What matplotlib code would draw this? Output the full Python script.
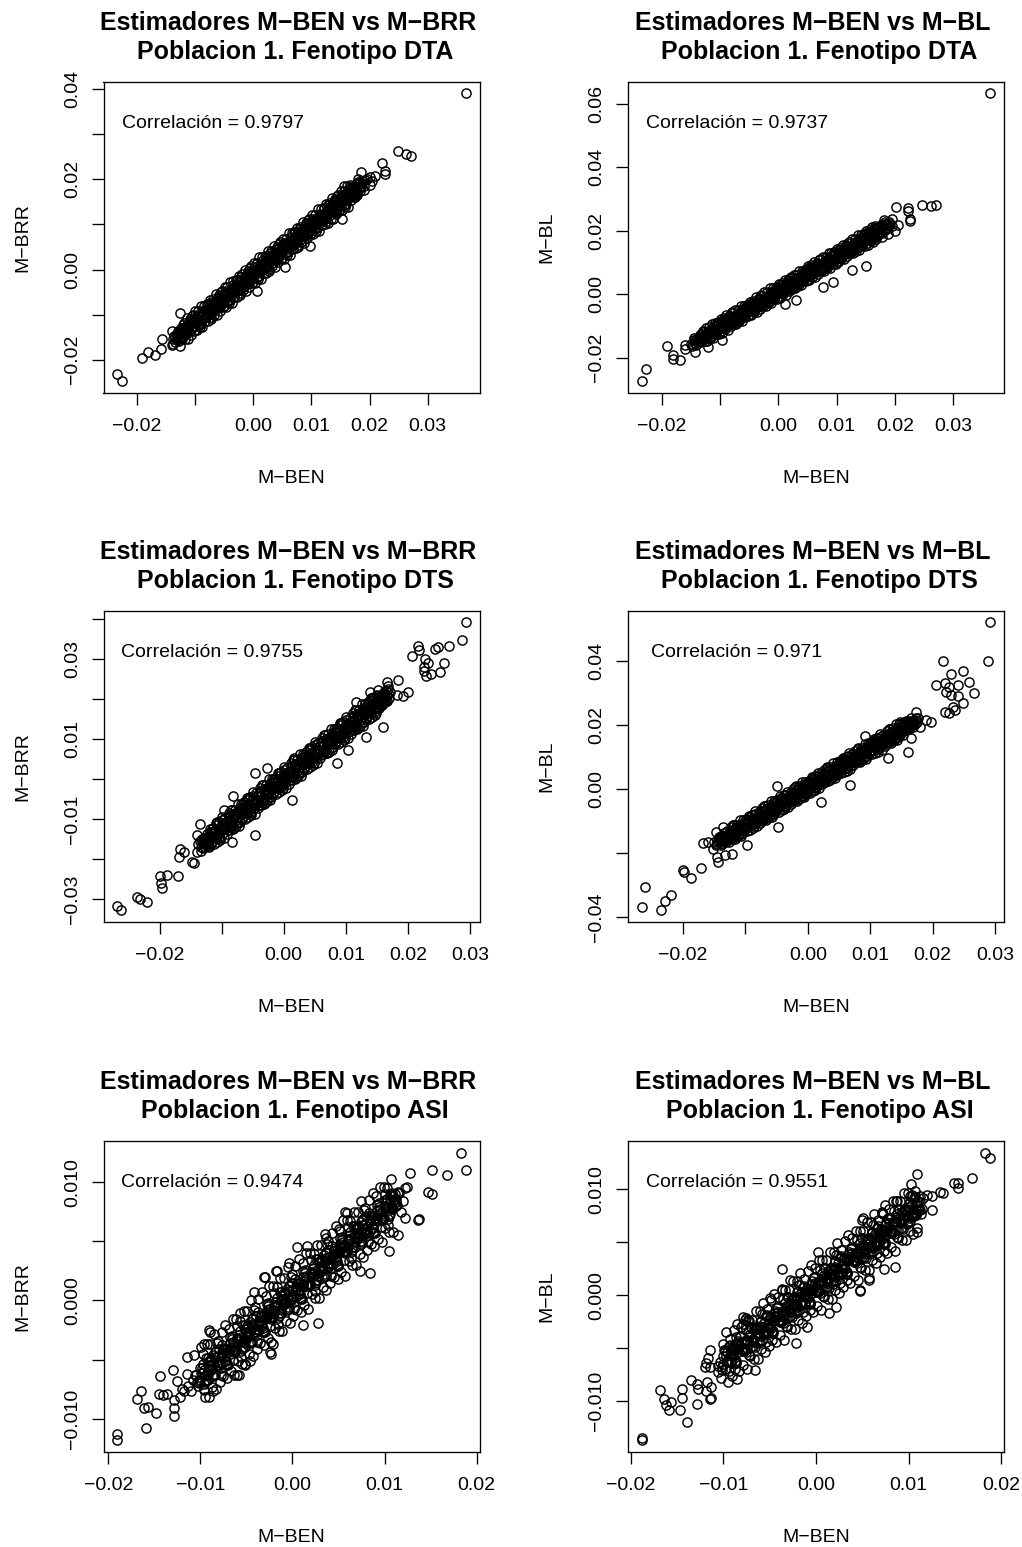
import numpy as np
import matplotlib
matplotlib.use("Agg")
import matplotlib.pyplot as plt

plt.rcParams['font.family'] = ['Liberation Sans', 'DejaVu Sans']

# marker effects, stored in units of 1e-4: (M-BEN, other estimator)
dta_brr = [
    (-140, -167), (-138, -153), (-135, -148), (-133, -154), (-130, -152), (-128, -138), (-125, -141), (-123, -150),
    (-120, -124), (-118, -146), (-115, -134), (-113, -124), (-110, -139), (-108, -114), (-105, -103), (-103, -126),
    (-100, -133), (-98, -112), (-95, -104), (-93, -122), (-90, -121), (-88, -96), (-85, -89), (-83, -103),
    (-80, -103), (-78, -76), (-75, -87), (-73, -106), (-70, -71), (-68, -93), (-65, -81), (-63, -71),
    (-60, -86), (-58, -61), (-55, -50), (-53, -73), (-50, -80), (-48, -59), (-45, -51), (-43, -69),
    (-40, -68), (-38, -43), (-35, -35), (-33, -49), (-30, -50), (-28, -23), (-25, -34), (-23, -53),
    (-20, -17), (-18, -39), (-15, -28), (-13, -18), (-10, -33), (-8, -8), (-5, 4), (-3, -19),
    (0, -27), (2, -6), (5, 2), (7, -16), (10, -14), (12, 11), (15, 18), (17, 4),
    (20, 3), (22, 30), (25, 20), (27, 1), (30, 36), (32, 14), (35, 25), (37, 35),
    (40, 21), (42, 46), (45, 57), (47, 34), (50, 26), (52, 47), (55, 56), (57, 38),
    (60, 39), (62, 64), (65, 71), (67, 57), (70, 57), (72, 84), (75, 73), (77, 54),
    (80, 89), (82, 67), (85, 79), (87, 89), (90, 74), (92, 99), (95, 110), (97, 87),
    (100, 80), (102, 101), (105, 109), (107, 91), (110, 92), (112, 117), (115, 124), (117, 110),
    (120, 110), (122, 137), (125, 126), (127, 107), (130, 142), (132, 120), (135, 132), (137, 142),
    (140, 127), (142, 152), (145, 163), (147, 140), (150, 133), (152, 154), (155, 162), (157, 144),
    (160, 145), (162, 170), (165, 178), (167, 164), (170, 167), (172, 181), (175, 178), (177, 169),
    (180, 189), (182, 179), (185, 186), (187, 192), (190, 186), (192, 199),
    (-118, -138), (-108, -120), (-98, -117), (-88, -99), (-78, -96), (-68, -78), (-58, -74), (-48, -57),
    (-38, -53), (-28, -36), (-18, -32), (-8, -14), (2, -11), (12, 7), (22, 10), (32, 28), (42, 32),
    (52, 49), (62, 53), (72, 70), (82, 74), (92, 92), (102, 95), (112, 113), (122, 116), (132, 134),
    (142, 138), (152, 155), (162, 159),
    (-132, -146), (-134, -160), (-127, -153), (-129, -144), (-122, -130), (-124, -152), (-117, -138), (-119, -129),
    (-112, -122), (-114, -133), (-107, -135), (-109, -115), (-102, -117), (-104, -126), (-97, -101), (-99, -109),
    (-92, -114), (-94, -122), (-87, -103), (-89, -104), (-82, -93), (-84, -107), (-77, -100), (-79, -91),
    (-72, -77), (-74, -99), (-67, -85), (-69, -76), (-62, -69), (-64, -80), (-57, -82), (-59, -62),
    (-52, -64), (-54, -73), (-47, -48), (-49, -56), (-42, -61), (-44, -69), (-37, -50), (-39, -51),
    (-32, -39), (-34, -53), (-27, -47), (-29, -38), (-22, -24), (-24, -46), (-17, -31), (-19, -22),
    (-12, -16), (-14, -27), (-7, -29), (-9, -9), (-2, -10), (-4, -19), (3, 5), (1, -3),
    (8, -8), (6, -16), (13, 4), (11, 3), (18, 14), (16, 0), (23, 6), (21, 15),
    (28, 30), (26, 8), (33, 22), (31, 31), (38, 37), (36, 26), (43, 25), (41, 45),
    (48, 43), (46, 34), (53, 58), (51, 50), (58, 46), (56, 38), (63, 57), (61, 56),
    (68, 67), (66, 53), (73, 60), (71, 69), (78, 83), (76, 61), (83, 75), (81, 84),
    (88, 91), (86, 80), (93, 78), (91, 98), (98, 96), (96, 87), (103, 112), (101, 104),
    (108, 99), (106, 91), (113, 110), (111, 109), (118, 120), (116, 106), (123, 113), (121, 122),
    (128, 136), (126, 114), (133, 128), (131, 137), (138, 144), (136, 133), (143, 131), (141, 151),
    (148, 149), (146, 140), (153, 165), (151, 157), (158, 152), (156, 144), (163, 163), (161, 162),
    (168, 174), (166, 160), (173, 166), (171, 175), (178, 189), (176, 167), (183, 182), (181, 191),
    (188, 197), (186, 186),
    (-131, -146), (-126, -150), (-121, -137), (-116, -126), (-111, -131), (-106, -131), (-101, -112), (-96, -112),
    (-91, -111), (-86, -99), (-81, -93), (-76, -97), (-71, -84), (-66, -73), (-61, -78), (-56, -78),
    (-51, -59), (-46, -59), (-41, -58), (-36, -46), (-31, -39), (-26, -44), (-21, -31), (-16, -19),
    (-11, -25), (-6, -25), (-1, -5), (4, -6), (9, -5), (14, 8), (19, 14), (24, 9),
    (29, 23), (34, 34), (39, 28), (44, 29), (49, 48), (54, 47), (59, 49), (64, 61),
    (69, 67), (74, 63), (79, 76), (84, 87), (89, 82), (94, 82), (99, 101), (104, 101),
    (109, 102), (114, 114), (119, 120), (124, 116), (129, 129), (134, 140), (139, 135), (144, 135),
    (149, 154), (154, 154), (159, 155), (164, 167), (169, 174), (174, 169), (179, 182), (184, 194),
    (-129, -137), (-127, -158), (-124, -129), (-122, -154), (-119, -118), (-117, -153), (-114, -107), (-112, -154),
    (-109, -110), (-107, -144), (-104, -100), (-102, -136), (-99, -92), (-97, -135), (-94, -92), (-92, -127),
    (-89, -80), (-87, -127), (-84, -80), (-82, -114), (-79, -77), (-77, -113), (-74, -67), (-72, -110),
    (-69, -65), (-67, -100), (-64, -54), (-62, -101), (-59, -57), (-57, -91), (-54, -47), (-52, -83),
    (-49, -39), (-47, -82), (-44, -39), (-42, -74), (-39, -27), (-37, -74), (-34, -26), (-32, -60),
    (-29, -24), (-27, -60), (-24, -14), (-22, -57), (-19, -11), (-17, -46), (-14, -1), (-12, -48),
    (-9, -4), (-7, -38), (-4, 7), (-2, -29), (1, 14), (3, -29), (6, 14), (8, -21),
    (11, 27), (13, -20), (16, 27), (18, -7), (21, 29), (23, -7), (26, 40), (28, -3),
    (31, 42), (33, 7), (36, 52), (38, 5), (41, 50), (43, 16), (46, 60), (48, 24),
    (51, 67), (53, 24), (56, 68), (58, 33), (61, 80), (63, 33), (66, 80), (68, 46),
    (71, 83), (73, 47), (76, 93), (78, 50), (81, 95), (83, 60), (86, 106), (88, 59),
    (91, 103), (93, 69), (96, 113), (98, 77), (101, 121), (103, 78), (106, 121), (108, 86),
    (111, 133), (113, 86), (116, 133), (118, 99), (121, 136), (123, 100), (126, 146), (128, 103),
    (131, 148), (133, 113), (136, 159), (138, 112), (141, 156), (143, 122), (146, 166), (148, 130),
    (151, 174), (153, 131), (156, 174), (158, 139), (161, 186), (163, 139), (166, 187), (168, 153),
    (171, 182), (173, 161), (176, 190), (178, 165), (181, 194), (183, 174),
    (365, 390), (249, 262), (262, 257), (272, 251), (222, 236), (226, 219), (226, 211), (186, 215),
    (201, 205), (157, 185), (153, 111), (98, 53), (54, 5), (6, -47), (-126, -97), (-140, -136),
    (-137, -165), (-126, -169), (-190, -195), (-180, -182), (-169, -189), (-158, -176), (-157, -154),
    (-233, -232), (-225, -247), (195, 200), (205, 196), (190, 176), (210, 208), (180, 200), (175, 160),
    (168, 183), (200, 188),
]

dta_bl = [
    (-150, -156), (-148, -165), (-145, -145), (-143, -155), (-140, -147), (-138, -141), (-135, -147), (-133, -134),
    (-130, -116), (-128, -139), (-125, -147), (-123, -126), (-120, -117), (-118, -135), (-115, -134), (-113, -109),
    (-110, -101), (-108, -115), (-105, -116), (-103, -89), (-100, -99), (-98, -118), (-95, -82), (-93, -104),
    (-90, -93), (-88, -83), (-85, -97), (-83, -72), (-80, -61), (-78, -84), (-75, -91), (-73, -70),
    (-70, -62), (-68, -80), (-65, -78), (-63, -53), (-60, -46), (-58, -60), (-55, -60), (-53, -33),
    (-50, -44), (-48, -63), (-45, -27), (-43, -49), (-40, -37), (-38, -27), (-35, -42), (-33, -17),
    (-30, -5), (-28, -28), (-25, -36), (-23, -15), (-20, -6), (-18, -24), (-15, -23), (-13, 2),
    (-10, 10), (-8, -4), (-5, -5), (-3, 22), (0, 12), (2, -7), (5, 29), (7, 7),
    (10, 18), (12, 28), (15, 14), (17, 39), (20, 50), (22, 27), (25, 20), (27, 41),
    (30, 49), (32, 31), (35, 33), (37, 58), (40, 65), (42, 51), (45, 51), (47, 78),
    (50, 68), (52, 49), (55, 84), (57, 62), (60, 74), (62, 84), (65, 69), (67, 94),
    (70, 106), (72, 83), (75, 75), (77, 96), (80, 105), (82, 87), (85, 88), (87, 113),
    (90, 121), (92, 107), (95, 106), (97, 133), (100, 123), (102, 104), (105, 140), (107, 118),
    (110, 129), (112, 139), (115, 125), (117, 150), (120, 161), (122, 138), (125, 131), (127, 152),
    (130, 160), (132, 142), (135, 144), (137, 169), (140, 176), (142, 162), (145, 162), (147, 189),
    (150, 179), (152, 160), (155, 195), (157, 173), (160, 185), (162, 195), (165, 180), (167, 205),
    (170, 208), (172, 197), (175, 195), (177, 206), (180, 213), (182, 205), (185, 206), (187, 220),
    (190, 226), (192, 220),
    (-128, -136), (-118, -119), (-108, -114), (-98, -97), (-88, -92), (-78, -75), (-68, -69), (-58, -52),
    (-48, -47), (-38, -30), (-28, -25), (-18, -8), (-8, -3), (2, 14), (12, 19), (22, 36), (32, 42),
    (42, 59), (52, 64), (62, 81), (72, 86), (82, 103), (92, 108), (102, 125), (112, 130), (122, 147),
    (132, 153), (142, 170), (152, 175), (162, 192), (172, 197),
    (-142, -160), (-144, -140), (-137, -141), (-139, -150), (-132, -126), (-134, -134), (-127, -138), (-129, -146),
    (-122, -127), (-124, -128), (-117, -116), (-119, -130), (-112, -124), (-114, -115), (-107, -100), (-109, -122),
    (-102, -108), (-104, -99), (-97, -92), (-99, -103), (-92, -104), (-94, -84), (-87, -86), (-89, -95),
    (-82, -70), (-84, -78), (-77, -83), (-79, -91), (-72, -71), (-74, -72), (-67, -61), (-69, -75),
    (-62, -68), (-64, -59), (-57, -45), (-59, -67), (-52, -52), (-54, -43), (-47, -37), (-49, -48),
    (-42, -49), (-44, -29), (-37, -30), (-39, -39), (-32, -15), (-34, -23), (-27, -27), (-29, -35),
    (-22, -16), (-24, -17), (-17, -5), (-19, -19), (-12, -13), (-14, -4), (-7, 11), (-9, -11),
    (-2, 3), (-4, 12), (3, 19), (1, 8), (8, 7), (6, 27), (13, 25), (11, 16),
    (18, 41), (16, 33), (23, 28), (21, 20), (28, 40), (26, 39), (33, 50), (31, 36),
    (38, 43), (36, 52), (43, 66), (41, 44), (48, 59), (46, 68), (53, 75), (51, 64),
    (58, 62), (56, 82), (63, 81), (61, 72), (68, 96), (66, 88), (73, 84), (71, 76),
    (78, 95), (76, 94), (83, 106), (81, 92), (88, 98), (86, 107), (93, 122), (91, 100),
    (98, 114), (96, 123), (103, 130), (101, 119), (108, 118), (106, 138), (113, 136), (111, 127),
    (118, 152), (116, 144), (123, 139), (121, 131), (128, 151), (126, 150), (133, 161), (131, 147),
    (138, 154), (136, 163), (143, 177), (141, 155), (148, 170), (146, 179), (153, 186), (151, 175),
    (158, 173), (156, 193), (163, 192), (161, 183), (168, 207), (166, 199), (173, 195), (171, 187),
    (178, 206), (176, 205), (183, 217), (181, 203), (188, 209), (186, 218),
    (-141, -142), (-136, -142), (-131, -141), (-126, -128), (-121, -122), (-116, -126), (-111, -113), (-106, -101),
    (-101, -107), (-96, -106), (-91, -86), (-86, -87), (-81, -85), (-76, -73), (-71, -66), (-66, -71),
    (-61, -57), (-56, -46), (-51, -51), (-46, -51), (-41, -31), (-36, -31), (-31, -30), (-26, -17),
    (-21, -11), (-16, -15), (-11, -2), (-6, 10), (-1, 4), (4, 5), (9, 25), (14, 24),
    (19, 26), (24, 38), (29, 45), (34, 40), (39, 54), (44, 65), (49, 60), (54, 61),
    (59, 80), (64, 80), (69, 81), (74, 94), (79, 100), (84, 96), (89, 109), (94, 121),
    (99, 115), (104, 116), (109, 136), (114, 135), (119, 137), (124, 149), (129, 156), (134, 151),
    (139, 165), (144, 176), (149, 171), (154, 172), (159, 191), (164, 191), (169, 192), (174, 205),
    (179, 211),
    (-134, -130), (-132, -150), (-129, -121), (-127, -142), (-124, -106), (-122, -149), (-119, -105), (-117, -140),
    (-114, -93), (-112, -140), (-109, -92), (-107, -126), (-104, -90), (-102, -126), (-99, -79), (-97, -122),
    (-94, -76), (-92, -111), (-89, -66), (-87, -113), (-84, -68), (-82, -102), (-79, -58), (-77, -94),
    (-74, -50), (-72, -93), (-69, -50), (-67, -85), (-64, -37), (-62, -84), (-59, -37), (-57, -71),
    (-54, -34), (-52, -70), (-49, -24), (-47, -67), (-44, -21), (-42, -56), (-39, -10), (-37, -57),
    (-34, -13), (-32, -47), (-29, -2), (-27, -38), (-24, 5), (-22, -38), (-19, 6), (-17, -29),
    (-14, 18), (-12, -29), (-9, 19), (-7, -15), (-4, 21), (-2, -15), (1, 32), (3, -11),
    (6, 35), (8, 0), (11, 45), (13, -2), (16, 43), (18, 9), (21, 53), (23, 17),
    (26, 61), (28, 18), (31, 61), (33, 26), (36, 74), (38, 27), (41, 74), (43, 40),
    (46, 77), (48, 41), (51, 88), (53, 45), (56, 90), (58, 55), (61, 101), (63, 54),
    (66, 98), (68, 64), (71, 109), (73, 73), (76, 116), (78, 73), (81, 117), (83, 82),
    (86, 129), (88, 82), (91, 130), (93, 96), (96, 132), (98, 96), (101, 143), (103, 100),
    (106, 146), (108, 111), (111, 156), (113, 109), (116, 154), (118, 120), (121, 164), (123, 128),
    (126, 172), (128, 129), (131, 172), (133, 137), (136, 185), (138, 138), (141, 185), (143, 151),
    (146, 188), (148, 152), (151, 199), (153, 156), (156, 201), (158, 166), (161, 212), (163, 165),
    (166, 209), (168, 175), (171, 212), (173, 191), (176, 218), (178, 193), (181, 221), (183, 201),
    (363, 632), (202, 274), (223, 271), (223, 261), (225, 237), (225, 229), (247, 282), (261, 276),
    (271, 282), (181, 232), (194, 237), (200, 200), (149, 189), (151, 87), (126, 76), (94, 37), (77, 21),
    (31, -19), (11, -32), (-97, -145), (-120, -168), (-143, -184), (-191, -163), (-180, -205),
    (-180, -192), (-169, -208), (-160, -174), (-160, -160), (-227, -237), (-234, -274),
    (178, 180), (188, 190), (195, 215), (182, 228), (165, 215), (205, 218),
]

dts_brr = [
    (-140, -181), (-138, -163), (-135, -154), (-133, -169), (-130, -172), (-128, -156), (-125, -149), (-123, -161),
    (-120, -169), (-118, -134), (-115, -125), (-113, -145), (-110, -146), (-108, -108), (-105, -125), (-103, -151),
    (-100, -103), (-98, -134), (-95, -120), (-93, -106), (-90, -127), (-88, -92), (-85, -77), (-83, -109),
    (-80, -122), (-78, -92), (-75, -82), (-73, -107), (-70, -107), (-68, -72), (-65, -62), (-63, -82),
    (-60, -84), (-58, -46), (-55, -63), (-53, -89), (-50, -41), (-48, -72), (-45, -57), (-43, -43),
    (-40, -65), (-38, -30), (-35, -15), (-33, -47), (-30, -60), (-28, -30), (-25, -19), (-23, -44),
    (-20, -44), (-18, -10), (-15, 0), (-13, -20), (-10, -22), (-8, 16), (-5, 0), (-3, -27),
    (0, 22), (2, -10), (5, 5), (7, 19), (10, -2), (12, 33), (15, 48), (17, 16),
    (20, 3), (22, 33), (25, 43), (27, 18), (30, 19), (32, 54), (35, 63), (37, 43),
    (40, 41), (42, 79), (45, 62), (47, 36), (50, 85), (52, 54), (55, 68), (57, 82),
    (60, 60), (62, 95), (65, 110), (67, 78), (70, 66), (72, 96), (75, 106), (77, 81),
    (80, 81), (82, 116), (85, 125), (87, 105), (90, 104), (92, 141), (95, 125), (97, 99),
    (100, 147), (102, 116), (105, 130), (107, 144), (110, 123), (112, 158), (115, 173), (117, 141),
    (120, 128), (122, 158), (125, 168), (127, 143), (130, 144), (132, 179), (135, 188), (137, 168),
    (140, 166), (142, 204), (145, 187), (147, 161), (150, 210), (152, 179), (155, 195), (157, 203),
    (160, 194), (162, 213), (165, 221), (167, 207), (170, 203), (172, 219),
    (-128, -162), (-118, -142), (-108, -137), (-98, -117), (-88, -112), (-78, -92), (-68, -87), (-58, -67),
    (-48, -62), (-38, -42), (-28, -37), (-18, -17), (-8, -12), (2, 9), (12, 13), (22, 34), (32, 38),
    (42, 59), (52, 63), (62, 84), (72, 88), (82, 109), (92, 113), (102, 134), (112, 138), (122, 159),
    (132, 163), (142, 184), (152, 188), (162, 209),
    (-132, -149), (-134, -180), (-127, -160), (-129, -148), (-122, -141), (-124, -156), (-117, -159), (-119, -132),
    (-112, -135), (-114, -148), (-107, -115), (-109, -126), (-102, -133), (-104, -144), (-97, -119), (-99, -121),
    (-92, -106), (-94, -125), (-87, -117), (-89, -105), (-82, -86), (-84, -117), (-77, -98), (-79, -86),
    (-72, -79), (-74, -94), (-67, -97), (-69, -70), (-62, -72), (-64, -85), (-57, -53), (-59, -64),
    (-52, -71), (-54, -82), (-47, -57), (-49, -59), (-42, -43), (-44, -62), (-37, -55), (-39, -43),
    (-32, -24), (-34, -55), (-27, -36), (-29, -24), (-22, -16), (-24, -31), (-17, -34), (-19, -7),
    (-12, -10), (-14, -23), (-7, 9), (-9, -2), (-2, -8), (-4, -19), (3, 6), (1, 4),
    (8, 19), (6, 0), (13, 8), (11, 20), (18, 39), (16, 8), (23, 27), (21, 39),
    (28, 46), (26, 31), (33, 29), (31, 56), (38, 53), (36, 40), (43, 72), (41, 61),
    (48, 54), (46, 43), (53, 69), (51, 67), (58, 82), (56, 63), (63, 70), (61, 82),
    (68, 101), (66, 70), (73, 90), (71, 102), (78, 109), (76, 94), (83, 91), (81, 118),
    (88, 115), (86, 102), (93, 135), (91, 124), (98, 117), (96, 106), (103, 131), (101, 129),
    (108, 144), (106, 125), (113, 133), (111, 145), (118, 164), (116, 133), (123, 152), (121, 164),
    (128, 171), (126, 156), (133, 154), (131, 181), (138, 178), (136, 165), (143, 197), (141, 186),
    (148, 179), (146, 168), (153, 194), (151, 192), (158, 207), (156, 188), (163, 195), (161, 207),
    (168, 226), (166, 195),
    (-131, -156), (-126, -163), (-121, -147), (-116, -133), (-111, -141), (-106, -140), (-101, -116), (-96, -118),
    (-91, -118), (-86, -101), (-81, -93), (-76, -101), (-71, -85), (-66, -71), (-61, -78), (-56, -78),
    (-51, -54), (-46, -56), (-41, -55), (-36, -39), (-31, -31), (-26, -39), (-21, -22), (-16, -8),
    (-11, -16), (-6, -16), (-1, 9), (4, 7), (9, 7), (14, 24), (19, 32), (24, 24),
    (29, 40), (34, 55), (39, 47), (44, 47), (49, 71), (54, 70), (59, 70), (64, 86),
    (69, 94), (74, 87), (79, 103), (84, 117), (89, 109), (94, 110), (99, 134), (104, 132),
    (109, 132), (114, 149), (119, 157), (124, 149), (129, 165), (134, 180), (139, 172), (144, 172),
    (149, 196), (154, 195), (159, 195), (164, 211),
    (-129, -146), (-127, -169), (-124, -136), (-122, -167), (-119, -124), (-117, -162), (-114, -121), (-112, -162),
    (-109, -109), (-107, -157), (-104, -106), (-102, -146), (-99, -94), (-97, -148), (-94, -98), (-92, -136),
    (-89, -85), (-87, -126), (-84, -77), (-82, -125), (-79, -76), (-77, -116), (-74, -62), (-72, -116),
    (-69, -62), (-67, -100), (-64, -58), (-62, -99), (-59, -47), (-57, -95), (-54, -44), (-52, -84),
    (-49, -32), (-47, -86), (-44, -35), (-42, -73), (-39, -23), (-37, -64), (-34, -15), (-32, -63),
    (-29, -14), (-27, -54), (-24, 1), (-22, -53), (-19, 1), (-17, -37), (-14, 4), (-12, -37),
    (-9, 15), (-7, -33), (-4, 19), (-2, -21), (1, 31), (3, -23), (6, 27), (8, -11),
    (11, 40), (13, -1), (16, 48), (18, 0), (21, 49), (23, 9), (26, 63), (28, 9),
    (31, 64), (33, 26), (36, 67), (38, 26), (41, 78), (43, 30), (46, 81), (48, 41),
    (51, 94), (53, 41), (56, 90), (58, 52), (61, 102), (63, 63), (66, 110), (68, 66),
    (71, 112), (73, 69), (76, 126), (78, 72), (81, 126), (83, 88), (86, 129), (88, 88),
    (91, 141), (93, 93), (96, 144), (98, 104), (101, 156), (103, 103), (106, 152), (108, 114),
    (111, 165), (113, 124), (116, 173), (118, 125), (121, 174), (123, 134), (126, 188), (128, 134),
    (131, 189), (133, 151), (136, 192), (138, 151), (141, 203), (143, 155), (146, 206), (148, 166),
    (151, 208), (153, 177), (156, 208), (158, 186), (161, 217), (163, 194),
    (293, 392), (288, 348), (267, 334), (249, 330), (243, 325), (217, 333), (218, 323), (207, 307),
    (228, 300), (233, 290), (226, 280), (226, 270), (230, 258), (237, 262), (259, 290), (251, 268),
    (166, 244), (184, 248), (168, 232), (200, 219), (182, 211), (192, 207), (139, 219), (152, 223),
    (117, 192), (160, 130), (132, 105), (86, 40), (13, -52), (-46, -139), (-84, -156), (-135, -112),
    (-140, -139), (-167, -175), (-160, -181), (-169, -195), (-148, -206), (-145, -210), (-200, -241),
    (-188, -239), (-171, -242), (-197, -260), (-196, -271), (-237, -295), (-231, -300), (-221, -308),
    (-268, -317), (-262, -327), (-46, 15), (-27, 28), (-81, -43), (-97, -77), (16, 54), (104, 73),
]

dts_bl = [
    (-150, -166), (-148, -175), (-145, -172), (-143, -157), (-140, -159), (-138, -172), (-135, -147), (-133, -161),
    (-130, -151), (-128, -142), (-125, -157), (-123, -130), (-120, -114), (-118, -144), (-115, -151), (-113, -129),
    (-110, -117), (-108, -141), (-105, -137), (-103, -109), (-100, -99), (-98, -118), (-95, -117), (-93, -87),
    (-90, -97), (-88, -123), (-85, -78), (-83, -107), (-80, -91), (-78, -82), (-75, -97), (-73, -70),
    (-70, -54), (-68, -84), (-65, -91), (-63, -69), (-60, -57), (-58, -81), (-55, -77), (-53, -49),
    (-50, -39), (-48, -58), (-45, -57), (-43, -27), (-40, -37), (-38, -63), (-35, -18), (-33, -47),
    (-30, -31), (-28, -22), (-25, -37), (-23, -10), (-20, 6), (-18, -24), (-15, -31), (-13, -9),
    (-10, 3), (-8, -21), (-5, -17), (-3, 11), (0, 21), (2, 2), (5, 3), (7, 33),
    (10, 23), (12, -3), (15, 42), (17, 13), (20, 29), (22, 38), (25, 23), (27, 50),
    (30, 66), (32, 36), (35, 29), (37, 51), (40, 63), (42, 39), (45, 43), (47, 71),
    (50, 81), (52, 62), (55, 63), (57, 93), (60, 83), (62, 57), (65, 102), (67, 73),
    (70, 89), (72, 98), (75, 83), (77, 110), (80, 126), (82, 96), (85, 89), (87, 111),
    (90, 123), (92, 99), (95, 103), (97, 131), (100, 141), (102, 122), (105, 123), (107, 153),
    (110, 143), (112, 117), (115, 162), (117, 133), (120, 149), (122, 158), (125, 143), (127, 170),
    (130, 186), (132, 156), (135, 149), (137, 171), (140, 183), (142, 159), (145, 163), (147, 191),
    (150, 201), (152, 182), (155, 188), (157, 203), (160, 201), (162, 188), (165, 213), (167, 199),
    (170, 210), (172, 214), (175, 210), (177, 223),
    (-128, -150), (-118, -132), (-108, -126), (-98, -108), (-88, -102), (-78, -84), (-68, -78), (-58, -60),
    (-48, -54), (-38, -36), (-28, -30), (-18, -12), (-8, -6), (2, 12), (12, 18), (22, 36), (32, 42),
    (42, 60), (52, 66), (62, 84), (72, 90), (82, 108), (92, 114), (102, 132), (112, 138), (122, 156),
    (132, 162), (142, 180), (152, 186), (162, 204),
    (-142, -149), (-144, -159), (-137, -164), (-139, -174), (-132, -151), (-134, -153), (-127, -139), (-129, -156),
    (-122, -149), (-124, -138), (-117, -121), (-119, -148), (-112, -131), (-114, -120), (-107, -113), (-109, -126),
    (-102, -128), (-104, -105), (-97, -107), (-99, -118), (-92, -89), (-94, -99), (-87, -104), (-89, -114),
    (-82, -91), (-84, -93), (-77, -79), (-79, -96), (-72, -89), (-74, -78), (-67, -61), (-69, -88),
    (-62, -71), (-64, -60), (-57, -53), (-59, -66), (-52, -68), (-54, -45), (-47, -47), (-49, -58),
    (-42, -29), (-44, -39), (-37, -44), (-39, -54), (-32, -31), (-34, -33), (-27, -19), (-29, -36),
    (-22, -29), (-24, -18), (-17, -1), (-19, -28), (-12, -11), (-14, 0), (-7, 7), (-9, -6),
    (-2, -8), (-4, 15), (3, 13), (1, 2), (8, 31), (6, 21), (13, 16), (11, 6),
    (18, 29), (16, 27), (23, 41), (21, 24), (28, 31), (26, 42), (33, 59), (31, 32),
    (38, 49), (36, 60), (43, 67), (41, 54), (48, 52), (46, 75), (53, 73), (51, 62),
    (58, 91), (56, 81), (63, 76), (61, 66), (68, 89), (66, 87), (73, 101), (71, 84),
    (78, 91), (76, 102), (83, 119), (81, 92), (88, 109), (86, 120), (93, 127), (91, 114),
    (98, 112), (96, 135), (103, 133), (101, 122), (108, 151), (106, 141), (113, 136), (111, 126),
    (118, 149), (116, 147), (123, 161), (121, 144), (128, 151), (126, 162), (133, 179), (131, 152),
    (138, 169), (136, 180), (143, 187), (141, 174), (148, 172), (146, 195), (153, 193), (151, 182),
    (158, 211), (156, 201), (163, 196), (161, 186), (168, 209), (166, 207), (173, 221), (171, 204),
    (-141, -154), (-136, -159), (-131, -158), (-126, -137), (-121, -138), (-116, -137), (-111, -123), (-106, -115),
    (-101, -121), (-96, -106), (-91, -94), (-86, -99), (-81, -98), (-76, -77), (-71, -78), (-66, -77),
    (-61, -63), (-56, -55), (-51, -61), (-46, -46), (-41, -34), (-36, -39), (-31, -38), (-26, -17),
    (-21, -18), (-16, -17), (-11, -3), (-6, 5), (-1, -1), (4, 14), (9, 26), (14, 21),
    (19, 22), (24, 43), (29, 42), (34, 43), (39, 57), (44, 65), (49, 59), (54, 74),
    (59, 86), (64, 81), (69, 82), (74, 103), (79, 102), (84, 103), (89, 117), (94, 125),
    (99, 119), (104, 134), (109, 146), (114, 141), (119, 142), (124, 163), (129, 162), (134, 163),
    (139, 177), (144, 185), (149, 179), (154, 194), (159, 206), (164, 201), (169, 202),
    (-139, -148), (-137, -168), (-134, -139), (-132, -167), (-129, -131), (-127, -166), (-124, -120), (-122, -157),
    (-119, -112), (-117, -156), (-114, -111), (-112, -147), (-109, -98), (-107, -146), (-104, -97), (-102, -132),
    (-99, -94), (-97, -131), (-94, -83), (-92, -127), (-89, -80), (-87, -116), (-84, -69), (-82, -117),
    (-79, -71), (-77, -106), (-74, -60), (-72, -97), (-69, -52), (-67, -96), (-64, -51), (-62, -87),
    (-59, -38), (-57, -86), (-54, -37), (-52, -72), (-49, -34), (-47, -71), (-44, -23), (-42, -67),
    (-39, -20), (-37, -56), (-34, -9), (-32, -57), (-29, -11), (-27, -46), (-24, 0), (-22, -37),
    (-19, 8), (-17, -36), (-14, 9), (-12, -27), (-9, 22), (-7, -26), (-4, 23), (-2, -12),
    (1, 26), (3, -11), (6, 37), (8, -7), (11, 40), (13, 4), (16, 51), (18, 3),
    (21, 49), (23, 14), (26, 60), (28, 23), (31, 68), (33, 24), (36, 69), (38, 33),
    (41, 82), (43, 34), (46, 83), (48, 48), (51, 86), (53, 49), (56, 97), (58, 53),
    (61, 100), (63, 64), (66, 111), (68, 63), (71, 109), (73, 74), (76, 120), (78, 83),
    (81, 128), (83, 84), (86, 129), (88, 93), (91, 142), (93, 94), (96, 143), (98, 108),
    (101, 146), (103, 109), (106, 157), (108, 113), (111, 160), (113, 124), (116, 171), (118, 123),
    (121, 169), (123, 134), (126, 180), (128, 143), (131, 188), (133, 144), (136, 189), (138, 153),
    (141, 202), (143, 154), (146, 203), (148, 168), (151, 207), (153, 169), (156, 208), (158, 183),
    (161, 212), (163, 192), (166, 221), (168, 193),
    (292, 520), (288, 400), (217, 400), (248, 369), (229, 359), (258, 335), (205, 325), (220, 330),
    (226, 320), (241, 325), (267, 301), (222, 304), (230, 294), (241, 289), (249, 270), (233, 257),
    (236, 247), (220, 239), (226, 236), (174, 242), (190, 216), (198, 210), (180, 195), (161, 115),
    (166, 158), (148, 210), (91, 164), (67, 13), (21, -40), (-49, 9), (-48, -118), (-98, -175),
    (-122, -204), (-147, -133), (-136, -118), (-133, -206), (-168, -170), (-160, -167), (-152, -189),
    (-145, -214), (-144, -227), (-171, -246), (-200, -253), (-198, -260), (-187, -277), (-261, -305),
    (-266, -368), (-236, -378), (-229, -349), (-220, -331), (129, 96),
]

asi_brr = [
    (-110, -77), (-108, -67), (-106, -63), (-104, -69), (-102, -68), (-100, -57), (-98, -61), (-96, -76),
    (-94, -49), (-92, -67), (-90, -59), (-88, -51), (-86, -64), (-84, -44), (-82, -36), (-80, -55),
    (-78, -63), (-76, -46), (-74, -40), (-72, -55), (-70, -55), (-68, -36), (-66, -30), (-64, -42),
    (-62, -43), (-60, -22), (-58, -33), (-56, -48), (-54, -21), (-52, -39), (-50, -31), (-48, -23),
    (-46, -36), (-44, -16), (-42, -8), (-40, -27), (-38, -35), (-36, -18), (-34, -12), (-32, -27),
    (-30, -27), (-28, -8), (-26, -2), (-24, -14), (-22, -15), (-20, 6), (-18, -5), (-16, -20),
    (-14, 7), (-12, -11), (-10, -3), (-8, 5), (-6, -8), (-4, 12), (-2, 20), (0, 1),
    (2, -7), (4, 10), (6, 16), (8, 1), (10, 1), (12, 20), (14, 26), (16, 14),
    (18, 13), (20, 34), (22, 23), (24, 8), (26, 35), (28, 17), (30, 25), (32, 33),
    (34, 20), (36, 40), (38, 48), (40, 29), (42, 21), (44, 38), (46, 44), (48, 29),
    (50, 29), (52, 48), (54, 54), (56, 42), (58, 41), (60, 62), (62, 51), (64, 36),
    (66, 63), (68, 45), (70, 53), (72, 61), (74, 48), (76, 68), (78, 76), (80, 57),
    (82, 49), (84, 66), (86, 72), (88, 57), (90, 57), (92, 76), (94, 82), (96, 70),
    (98, 69), (100, 90), (102, 79), (104, 64), (106, 86), (108, 77), (110, 82), (112, 86),
    (114, 81), (116, 91),
    (-100, -67), (-92, -55), (-84, -56), (-76, -44), (-68, -45), (-60, -33), (-52, -33), (-44, -22),
    (-36, -22), (-28, -11), (-20, -11), (-12, 1), (-4, 0), (4, 12), (12, 11), (20, 23), (28, 23),
    (36, 34), (44, 34), (52, 45), (60, 45), (68, 57), (76, 56), (84, 68), (92, 67), (100, 79), (108, 79),
    (-105, -63), (-103, -72), (-101, -70), (-99, -61), (-97, -54), (-95, -69), (-93, -61), (-91, -52),
    (-89, -50), (-87, -57), (-85, -62), (-83, -43), (-81, -48), (-79, -53), (-77, -38), (-75, -42),
    (-73, -50), (-71, -54), (-69, -42), (-67, -40), (-65, -35), (-63, -44), (-61, -42), (-59, -33),
    (-57, -26), (-55, -41), (-53, -33), (-51, -24), (-49, -22), (-47, -29), (-45, -34), (-43, -15),
    (-41, -20), (-39, -25), (-37, -10), (-35, -14), (-33, -22), (-31, -26), (-29, -14), (-27, -12),
    (-25, -7), (-23, -16), (-21, -14), (-19, -5), (-17, 2), (-15, -13), (-13, -5), (-11, 4),
    (-9, 6), (-7, -1), (-5, -6), (-3, 13), (-1, 8), (1, 3), (3, 18), (5, 14),
    (7, 6), (9, 2), (11, 14), (13, 16), (15, 21), (17, 12), (19, 14), (21, 23),
    (23, 30), (25, 15), (27, 23), (29, 32), (31, 34), (33, 27), (35, 22), (37, 41),
    (39, 36), (41, 31), (43, 46), (45, 42), (47, 34), (49, 30), (51, 42), (53, 44),
    (55, 49), (57, 40), (59, 42), (61, 51), (63, 58), (65, 43), (67, 51), (69, 60),
    (71, 62), (73, 55), (75, 50), (77, 69), (79, 64), (81, 59), (83, 74), (85, 70),
    (87, 62), (89, 58), (91, 70), (93, 72), (95, 77), (97, 68), (99, 70), (101, 79),
    (103, 86), (105, 71), (107, 79), (109, 88), (111, 90), (113, 83),
    (-97, -45), (-95, -82), (-93, -37), (-91, -82), (-89, -37), (-87, -73), (-85, -28), (-83, -75),
    (-81, -34), (-79, -69), (-77, -27), (-75, -64), (-73, -21), (-71, -66), (-69, -24), (-67, -60),
    (-65, -16), (-63, -63), (-61, -16), (-59, -51), (-57, -17), (-55, -54), (-53, -9), (-51, -54),
    (-49, -9), (-47, -45), (-45, 0), (-43, -47), (-41, -6), (-39, -41), (-37, 1), (-35, -36),
    (-33, 7), (-31, -38), (-29, 4), (-27, -32), (-25, 12), (-23, -35), (-21, 12), (-19, -23),
    (-17, 11), (-15, -26), (-13, 19), (-11, -26), (-9, 19), (-7, -17), (-5, 28), (-3, -19),
    (-1, 22), (1, -13), (3, 29), (5, -8), (7, 35), (9, -10), (11, 32), (13, -4),
    (15, 40), (17, -7), (19, 40), (21, 5), (23, 39), (25, 2), (27, 47), (29, 2),
    (31, 47), (33, 11), (35, 56), (37, 9), (39, 50), (41, 15), (43, 57), (45, 20),
    (47, 63), (49, 18), (51, 60), (53, 24), (55, 68), (57, 21), (59, 68), (61, 33),
    (63, 67), (65, 30), (67, 75), (69, 30), (71, 75), (73, 39), (75, 84), (77, 37),
    (79, 78), (81, 43), (83, 85), (85, 48), (87, 91), (89, 46), (91, 88), (93, 52),
    (95, 96), (97, 49), (99, 96), (101, 61), (103, 95), (105, 58), (107, 103), (109, 58),
    (-96, -59), (-92, -63), (-88, -55), (-84, -48), (-80, -52), (-76, -53), (-72, -41), (-68, -42),
    (-64, -42), (-60, -34), (-56, -31), (-52, -35), (-48, -27), (-44, -20), (-40, -24), (-36, -25),
    (-32, -13), (-28, -14), (-24, -14), (-20, -6), (-16, -3), (-12, -7), (-8, 1), (-4, 8),
    (0, 4), (4, 3), (8, 15), (12, 14), (16, 14), (20, 22), (24, 25), (28, 21),
    (32, 29), (36, 36), (40, 32), (44, 31), (48, 43), (52, 42), (56, 42), (60, 50),
    (64, 53), (68, 49), (72, 57), (76, 64), (80, 60), (84, 59), (88, 71), (92, 70),
    (96, 70), (100, 78), (104, 81), (108, 77),
    (-98, -57), (-94, -67), (-90, -55), (-86, -46), (-82, -55), (-78, -57), (-74, -41), (-70, -44),
    (-66, -33), (-62, -42), (-58, -29), (-54, -39), (-50, -27), (-46, -18), (-42, -27), (-38, -29),
    (-34, -13), (-30, -16), (-26, -5), (-22, -14), (-18, -1), (-14, -11), (-10, 1), (-6, 10),
    (-2, 1), (2, -1), (6, 15), (10, 12), (14, 23), (18, 14), (22, 27), (26, 17),
    (30, 29), (34, 38), (38, 29), (42, 27), (46, 43), (50, 40), (54, 51), (58, 42),
    (62, 55), (66, 45), (70, 57), (74, 66), (78, 57), (82, 55), (86, 71), (90, 68),
    (94, 79), (98, 70), (102, 83), (106, 73), (110, 85),
    (-96, -71), (-92, -49), (-88, -59), (-84, -63), (-80, -41), (-76, -45), (-72, -51), (-68, -31),
    (-64, -50), (-60, -32), (-56, -43), (-52, -21), (-48, -31), (-44, -35), (-40, -13), (-36, -17),
    (-32, -23), (-28, -3), (-24, -22), (-20, -4), (-16, -15), (-12, 7), (-8, -3), (-4, -7),
    (0, 15), (4, 11), (8, 5), (12, 25), (16, 6), (20, 24), (24, 13), (28, 35),
    (32, 25), (36, 21), (40, 43), (44, 39), (48, 33), (52, 53), (56, 34), (60, 52),
    (64, 41), (68, 63), (72, 53), (76, 49), (80, 71), (84, 67), (88, 61), (92, 81),
    (96, 62), (100, 80), (104, 69), (108, 91), (112, 81),
    (183, 125), (188, 110), (152, 110), (168, 106), (128, 108), (122, 95), (147, 92), (152, 90),
    (136, 68), (105, 42), (84, 23), (59, 74), (28, -19), (-23, -45), (-60, -63), (-51, -55),
    (-86, -77), (-96, -75), (-99, -39), (-91, -25), (-114, -48), (-130, -59), (-144, -64), (-164, -77),
    (-169, -83), (-161, -91), (-157, -90), (-145, -79), (-140, -80), (-136, -79), (-129, -84),
    (-129, -91), (-129, -98), (-148, -95), (-159, -108), (-190, -113), (-190, -118), (-120, -75),
    (-118, -77), (-113, -72), (5, 45), (55, 45), (-30, 20), (-42, 7), (-18, 25), (-4, 32), (57, 75),
    (-24, -44), (12, -21), (-31, 20), (-17, 25), (16, 46), (37, 53), (52, 59), (73, 25), (115, 55),
    (137, 69), (106, 89), (124, 96), (-89, -27), (-96, -37), (-107, -46), (-58, -63), (-46, -51),
    (-21, -37), (-57, -11), (100, 85), (108, 88), (112, 80), (118, 75), (122, 70), (115, 92),
    (104, 78), (120, 84), (-125, -68), (-122, -82), (-115, -62),
]

asi_bl = [
    (-106, -67), (-104, -63), (-102, -68), (-100, -58), (-98, -53), (-96, -62), (-94, -72), (-92, -55),
    (-90, -49), (-88, -64), (-86, -64), (-84, -45), (-82, -39), (-80, -51), (-78, -53), (-76, -32),
    (-74, -42), (-72, -57), (-70, -30), (-68, -48), (-66, -40), (-64, -32), (-62, -45), (-60, -25),
    (-58, -18), (-56, -37), (-54, -44), (-52, -27), (-50, -21), (-48, -36), (-46, -36), (-44, -17),
    (-42, -11), (-40, -23), (-38, -25), (-36, -4), (-34, -14), (-32, -29), (-30, -2), (-28, -20),
    (-26, -12), (-24, -4), (-22, -17), (-20, 3), (-18, 10), (-16, -9), (-14, -16), (-12, 1),
    (-10, 7), (-8, -8), (-6, -8), (-4, 11), (-2, 17), (0, 5), (2, 3), (4, 24),
    (6, 14), (8, -1), (10, 26), (12, 8), (14, 16), (16, 24), (18, 11), (20, 31),
    (22, 38), (24, 19), (26, 12), (28, 29), (30, 35), (32, 20), (34, 20), (36, 39),
    (38, 45), (40, 33), (42, 31), (44, 52), (46, 42), (48, 27), (50, 54), (52, 36),
    (54, 44), (56, 52), (58, 39), (60, 59), (62, 66), (64, 47), (66, 40), (68, 57),
    (70, 63), (72, 48), (74, 48), (76, 67), (78, 73), (80, 61), (82, 59), (84, 80),
    (86, 70), (88, 55), (90, 82), (92, 64), (94, 72), (96, 80), (98, 67), (100, 87),
    (102, 94), (104, 75), (106, 75), (108, 84), (110, 88), (112, 81), (114, 82), (116, 92),
    (-100, -65), (-92, -53), (-84, -54), (-76, -42), (-68, -43), (-60, -31), (-52, -31), (-44, -20),
    (-36, -20), (-28, -9), (-20, -9), (-12, 3), (-4, 2), (4, 14), (12, 13), (20, 25), (28, 25),
    (36, 36), (44, 36), (52, 47), (60, 47), (68, 59), (76, 58), (84, 70), (92, 69), (100, 81), (108, 81),
    (-101, -71), (-99, -52), (-97, -58), (-95, -63), (-93, -47), (-91, -51), (-89, -59), (-87, -63),
    (-85, -51), (-83, -49), (-81, -44), (-79, -53), (-77, -52), (-75, -43), (-73, -35), (-71, -50),
    (-69, -42), (-67, -33), (-65, -31), (-63, -38), (-61, -43), (-59, -24), (-57, -30), (-55, -35),
    (-53, -19), (-51, -23), (-49, -31), (-47, -35), (-45, -23), (-43, -21), (-41, -16), (-39, -25),
    (-37, -24), (-35, -15), (-33, -7), (-31, -22), (-29, -14), (-27, -5), (-25, -3), (-23, -10),
    (-21, -15), (-19, 4), (-17, -2), (-15, -7), (-13, 9), (-11, 5), (-9, -3), (-7, -7),
    (-5, 5), (-3, 7), (-1, 12), (1, 3), (3, 4), (5, 13), (7, 21), (9, 6),
    (11, 14), (13, 23), (15, 25), (17, 18), (19, 13), (21, 32), (23, 26), (25, 21),
    (27, 37), (29, 33), (31, 25), (33, 21), (35, 33), (37, 35), (39, 40), (41, 31),
    (43, 32), (45, 41), (47, 49), (49, 34), (51, 42), (53, 51), (55, 53), (57, 46),
    (59, 41), (61, 60), (63, 54), (65, 49), (67, 65), (69, 61), (71, 53), (73, 49),
    (75, 61), (77, 63), (79, 68), (81, 59), (83, 60), (85, 69), (87, 77), (89, 62),
    (91, 70), (93, 79), (95, 81), (97, 74), (99, 69), (101, 88), (103, 82), (105, 77),
    (107, 93), (109, 89), (111, 81), (113, 77),
    (-97, -35), (-95, -82), (-93, -41), (-91, -76), (-89, -33), (-87, -70), (-85, -27), (-83, -72),
    (-81, -30), (-79, -66), (-77, -23), (-75, -70), (-73, -23), (-71, -58), (-69, -23), (-67, -60),
    (-65, -15), (-63, -60), (-61, -15), (-59, -51), (-57, -7), (-55, -54), (-53, -13), (-51, -48),
    (-49, -5), (-47, -42), (-45, 1), (-43, -44), (-41, -2), (-39, -38), (-37, 5), (-35, -42),
    (-33, 5), (-31, -30), (-29, 5), (-27, -32), (-25, 13), (-23, -32), (-21, 13), (-19, -23),
    (-17, 21), (-15, -26), (-13, 15), (-11, -20), (-9, 23), (-7, -14), (-5, 29), (-3, -16),
    (-1, 26), (1, -10), (3, 33), (5, -14), (7, 33), (9, -2), (11, 33), (13, -4),
    (15, 41), (17, -4), (19, 41), (21, 5), (23, 49), (25, 2), (27, 43), (29, 8),
    (31, 51), (33, 14), (35, 57), (37, 12), (39, 54), (41, 18), (43, 61), (45, 14),
    (47, 61), (49, 26), (51, 61), (53, 24), (55, 69), (57, 24), (59, 69), (61, 33),
    (63, 77), (65, 30), (67, 71), (69, 36), (71, 79), (73, 42), (75, 85), (77, 40),
    (79, 82), (81, 46), (83, 89), (85, 42), (87, 89), (89, 54), (91, 89), (93, 52),
    (95, 97), (97, 52), (99, 97), (101, 61), (103, 105), (105, 58), (107, 99), (109, 64),
    (-96, -62), (-92, -62), (-88, -50), (-84, -51), (-80, -51), (-76, -44), (-72, -40), (-68, -44),
    (-64, -36), (-60, -29), (-56, -34), (-52, -34), (-48, -22), (-44, -23), (-40, -23), (-36, -16),
    (-32, -12), (-28, -16), (-24, -8), (-20, -1), (-16, -6), (-12, -6), (-8, 6), (-4, 5),
    (0, 5), (4, 12), (8, 16), (12, 12), (16, 20), (20, 27), (24, 22), (28, 22),
    (32, 34), (36, 33), (40, 33), (44, 40), (48, 44), (52, 40), (56, 48), (60, 55),
    (64, 50), (68, 50), (72, 62), (76, 61), (80, 61), (84, 68), (88, 72), (92, 68),
    (96, 76), (100, 83), (104, 78), (108, 78),
    (-98, -70), (-94, -48), (-90, -58), (-86, -62), (-82, -40), (-78, -44), (-74, -50), (-70, -30),
    (-66, -49), (-62, -31), (-58, -42), (-54, -20), (-50, -30), (-46, -34), (-42, -12), (-38, -16),
    (-34, -22), (-30, -2), (-26, -21), (-22, -3), (-18, -14), (-14, 8), (-10, -2), (-6, -6),
    (-2, 16), (2, 12), (6, 6), (10, 26), (14, 7), (18, 25), (22, 14), (26, 36),
    (30, 26), (34, 22), (38, 44), (42, 40), (46, 34), (50, 54), (54, 35), (58, 53),
    (62, 42), (66, 64), (70, 54), (74, 50), (78, 72), (82, 68), (86, 62), (90, 82),
    (94, 63), (98, 81), (102, 70), (106, 92), (110, 82),
    (-96, -54), (-92, -64), (-88, -52), (-84, -43), (-80, -52), (-76, -54), (-72, -38), (-68, -41),
    (-64, -30), (-60, -39), (-56, -26), (-52, -36), (-48, -24), (-44, -15), (-40, -24), (-36, -26),
    (-32, -10), (-28, -13), (-24, -2), (-20, -11), (-16, 2), (-12, -8), (-8, 4), (-4, 13),
    (0, 4), (4, 2), (8, 18), (12, 15), (16, 26), (20, 17), (24, 30), (28, 20),
    (32, 32), (36, 41), (40, 32), (44, 30), (48, 46), (52, 43), (56, 54), (60, 45),
    (64, 58), (68, 48), (72, 60), (76, 69), (80, 60), (84, 58), (88, 74), (92, 71),
    (96, 82), (100, 73), (104, 86), (108, 76), (112, 88),
    (183, 135), (188, 130), (168, 111), (149, 106), (153, 106), (153, 101), (109, 115), (137, 97),
    (125, 94), (112, 94), (86, 89), (125, 81), (72, 77), (51, 73), (50, 71), (2, 41), (57, 16),
    (47, 4), (85, 27), (22, -11), (14, -17), (-22, -45), (-37, 6), (-66, -71), (-85, -79),
    (-76, -22), (-72, -24), (-79, -27), (-114, -52), (-117, -59), (-119, -64), (-114, -68),
    (-106, -73), (-103, -78), (-135, -80), (-128, -84), (-127, -89), (-118, -82), (-113, -87),
    (-113, -97), (-119, -91), (-168, -90), (-164, -98), (-162, -104), (-159, -109), (-157, -101),
    (-147, -109), (-145, -89), (-145, -97), (-129, -103), (-139, -120), (-188, -135), (-188, -137),
    (71, 78), (104, 95), (120, 95), (134, 98), (109, 60), (73, 25), (57, 14), (48, 5), (-10, -30),
    (-37, 25), (-28, 14), (-50, -3), (-79, -21), (-86, -40), (-100, -46), (-120, -68), (-115, -98),
]

correlations = {("DTA", "BRR"): "0.9797", ("DTA", "BL"): "0.9737",
                ("DTS", "BRR"): "0.9755", ("DTS", "BL"): "0.971",
                ("ASI", "BRR"): "0.9474", ("ASI", "BL"): "0.9551"}

M = "\u2212"
xt_dt = ([-0.02, -0.01, 0.0, 0.01, 0.02, 0.03], [M + "0.02", "", "0.00", "0.01", "0.02", "0.03"])
xt_asi = ([-0.02, -0.01, 0.0, 0.01, 0.02], [M + "0.02", M + "0.01", "0.00", "0.01", "0.02"])
yt_asi = ([-0.01, -0.005, 0.0, 0.005, 0.01], [M + "0.010", "", "0.000", "", "0.010"])

panels = [
    ("DTA", "BRR", dta_brr, 0, 0, xt_dt,
     ([-0.02, -0.01, 0.0, 0.01, 0.02, 0.03, 0.04], [M + "0.02", "", "0.00", "", "0.02", "", "0.04"]), 0.050),
    ("DTA", "BL", dta_bl, 0, 1, xt_dt,
     ([-0.02, 0.0, 0.02, 0.04, 0.06], [M + "0.02", "0.00", "0.02", "0.04", "0.06"]), 0.049),
    ("DTS", "BRR", dts_brr, 1, 0, xt_dt,
     ([-0.03, -0.02, -0.01, 0.0, 0.01, 0.02, 0.03, 0.04],
      [M + "0.03", "", M + "0.01", "", "0.01", "", "0.03", ""]), 0.047),
    ("DTS", "BL", dts_bl, 1, 1, xt_dt,
     ([-0.04, -0.02, 0.0, 0.02, 0.04], [M + "0.04", "", "0.00", "0.02", "0.04"]), 0.062),
    ("ASI", "BRR", asi_brr, 2, 0, xt_asi, yt_asi, 0.047),
    ("ASI", "BL", asi_bl, 2, 1, xt_asi, yt_asi, 0.049),
]

W, H = 1022, 1547
fig = plt.figure(figsize=(W / 100, H / 100), dpi=100)
lefts = [103.5, 628]
tops = [82, 611, 1141]
aw, ah = 376, 310.5

for ph, est, pts, r, c, xt, yt, tx in panels:
    ax = fig.add_axes([lefts[c] / W, 1 - (tops[r] + ah) / H, aw / W, ah / H])
    arr = np.array(pts, dtype=float) * 1e-4
    ax.plot(arr[:, 0], arr[:, 1], 'o', ms=6.6, mfc='none', mec='black', mew=1.05, ls='none')
    ax.margins(0.04)
    ax.set_xticks(xt[0])
    ax.set_xticklabels(xt[1])
    ax.set_yticks(yt[0])
    ax.set_yticklabels(yt[1], rotation=90, va='center')
    ax.tick_params(axis='both', direction='out', length=8.6, width=0.95, labelsize=14, colors='black')
    ax.tick_params(axis='x', pad=10)
    ax.tick_params(axis='y', pad=7.6)
    for s in ax.spines.values():
        s.set_linewidth(0.95)
    ax.set_xlabel("M" + M + "BEN", fontsize=14)
    ax.set_ylabel("M" + M + est, fontsize=14)
    ax.xaxis.set_label_coords(0.5, -0.251)
    ax.yaxis.set_label_coords(-0.193, 0.5)
    ax.set_title("Estimadores M" + M + "BEN vs M" + M + est + " \n Poblacion 1. Fenotipo " + ph,
                 fontsize=18, fontweight='bold', pad=16.7, linespacing=1.26)
    ax.text(tx, 0.867, "Correlación = " + correlations[(ph, est)], transform=ax.transAxes,
            ha='left', va='center', fontsize=14)

fig.savefig("out.png", dpi=100)
